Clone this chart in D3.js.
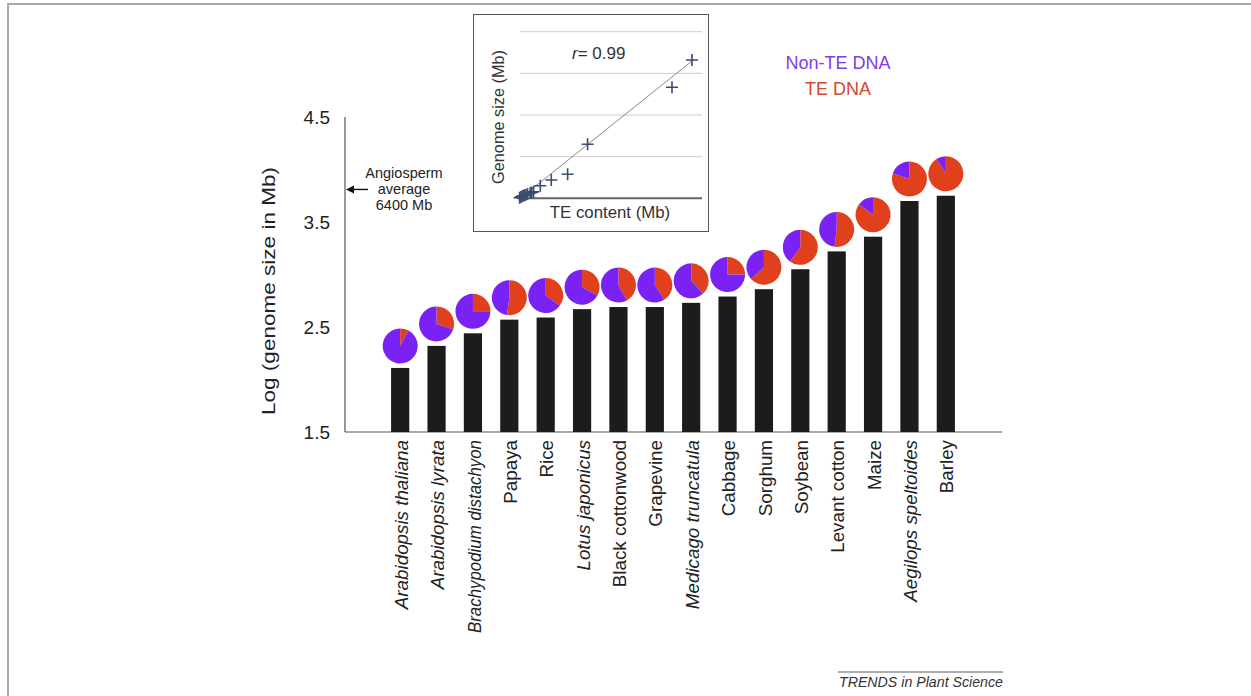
<!DOCTYPE html>
<html>
<head>
<meta charset="utf-8">
<script src="https://cdn.jsdelivr.net/npm/d3@7"></script>
<style>
  body { margin: 0; background: #fff; }
  text { font-family: "Liberation Sans", Arial, sans-serif; }
</style>
</head>
<body>
<div id="chart"></div>
<script>
// main chart data
const species = ["Arabidopsis thaliana", "Arabidopsis lyrata", "Brachypodium distachyon", "Papaya", "Rice",
  "Lotus japonicus", "Black cottonwood", "Grapevine", "Medicago truncatula", "Cabbage", "Sorghum",
  "Soybean", "Levant cotton", "Maize", "Aegilops speltoides", "Barley"];
const italicNames = ["Arabidopsis thaliana", "Arabidopsis lyrata", "Brachypodium distachyon",
  "Lotus japonicus", "Medicago truncatula", "Aegilops speltoides"];
const logSize = [2.11, 2.32, 2.44, 2.57, 2.59, 2.67, 2.69, 2.69, 2.73, 2.79, 2.86, 3.05, 3.22, 3.36, 3.70, 3.75];
const teShare = [0.08, 0.30, 0.25, 0.52, 0.35, 0.33, 0.42, 0.41, 0.38, 0.25, 0.63, 0.60, 0.52, 0.85, 0.80, 0.91];
const yTicks = [1.5, 2.5, 3.5, 4.5];
const angiospermAvg = 3.81;

// inset data (Mb)
const insetTE = [4516, 4000, 1822, 1306, 885, 601, 428, 343, 273, 196, 129, 67, 380, 230, 160, 100];
const insetSize = [4981, 3997, 1945, 864, 659, 454, 238, 191, 155, 108, 72, 22, 210, 130, 90, 50];
const insetGrid = [1500, 3000, 4500, 6000];
const fitLine = [[85, 0], [4560, 4994]];

const width = 1251, height = 696;
const purple = "#7a20f4", red = "#e0401c";

const svg = d3.select("#chart")
    .append("svg")
    .attr("width", width)
    .attr("height", height);

// page frame
svg.append("path")
    .attr("d", "M8,696 V4 H1251")
    .attr("fill", "none")
    .attr("stroke", "#aaa")
    .attr("stroke-width", 2);

const blur = svg.append("defs").append("filter")
    .attr("id", "soft")
    .attr("x", "-20%").attr("y", "-20%").attr("width", "140%").attr("height", "140%");
blur.append("feGaussianBlur").attr("stdDeviation", 0.7);

const x = d3.scaleBand()
    .domain(species)
    .range([382, 964])
    .paddingInner(0.5)
    .paddingOuter(0.25);

const y = d3.scaleLinear()
    .domain([1.5, 4.5])
    .range([432, 117]);

// axes
svg.append("line")
    .attr("x1", 345).attr("x2", 345)
    .attr("y1", y(4.5)).attr("y2", y(1.5))
    .attr("stroke", "#555").attr("stroke-width", 1.2);
svg.append("line")
    .attr("x1", 345).attr("x2", 1002)
    .attr("y1", y(1.5)).attr("y2", y(1.5))
    .attr("stroke", "#555").attr("stroke-width", 1.2);

svg.selectAll(".ytick")
    .data(yTicks)
    .enter()
    .append("text")
    .attr("class", "ytick")
    .attr("x", 330)
    .attr("y", d => y(d))
    .attr("dy", "0.36em")
    .attr("text-anchor", "end")
    .attr("font-size", 19)
    .attr("fill", "#222")
    .text(d => d.toFixed(1));

svg.append("text")
    .attr("transform", "translate(275,291) rotate(-90)")
    .attr("text-anchor", "middle")
    .attr("font-size", 18)
    .attr("textLength", 248)
    .attr("lengthAdjust", "spacingAndGlyphs")
    .attr("fill", "#222")
    .text("Log (genome size in Mb)");

// angiosperm average arrow
const yAvg = y(angiospermAvg);
svg.append("line")
    .attr("x1", 368).attr("x2", 350)
    .attr("y1", yAvg).attr("y2", yAvg)
    .attr("stroke", "#111").attr("stroke-width", 1.4);
svg.append("path")
    .attr("d", `M346,${yAvg} l8,-4 l0,8 z`)
    .attr("fill", "#111");
svg.append("text")
    .attr("x", 404)
    .attr("y", yAvg - 11)
    .attr("text-anchor", "middle")
    .attr("font-size", 14.5)
    .attr("fill", "#222")
    .selectAll("tspan")
    .data(["Angiosperm", "average", "6400 Mb"])
    .enter()
    .append("tspan")
    .attr("x", 404)
    .attr("dy", (d, i) => i === 0 ? 0 : 16)
    .text(d => d);

// bars
svg.selectAll(".bar")
    .data(species)
    .enter()
    .append("rect")
    .attr("class", "bar")
    .attr("x", d => x(d))
    .attr("y", (d, i) => y(logSize[i]))
    .attr("width", x.bandwidth())
    .attr("height", (d, i) => y(1.5) - y(logSize[i]))
    .attr("fill", "#1a1a1a")
    .attr("filter", "url(#soft)");

// pies above bars
const pie = d3.pie().sort(null).value(d => d);
const arc = d3.arc().innerRadius(0).outerRadius(17.5);

const pies = svg.selectAll(".pie")
    .data(species)
    .enter()
    .append("g")
    .attr("class", "pie")
    .attr("filter", "url(#soft)")
    .attr("transform", (d, i) => `translate(${x(d) + x.bandwidth() / 2},${y(logSize[i]) - 22})`);

pies.selectAll("path")
    .data((d, i) => pie([teShare[i], 1 - teShare[i]]))
    .enter()
    .append("path")
    .attr("d", arc)
    .attr("fill", (d, i) => i === 0 ? red : purple);

// category labels
const xLabels = svg.selectAll(".xlab")
    .data(species)
    .enter()
    .append("text")
    .attr("class", "xlab")
    .attr("transform", d => `translate(${x(d) + x.bandwidth() / 2 + 1},440) rotate(-90)`)
    .attr("dy", "0.35em")
    .attr("text-anchor", "end")
    .attr("font-size", 18.8)
    .attr("font-style", d => italicNames.includes(d) ? "italic" : "normal")
    .attr("fill", "#222")
    .text(d => d);

// the long Brachypodium label is squeezed in the original
xLabels.filter(d => d === "Brachypodium distachyon")
    .attr("textLength", 193)
    .attr("lengthAdjust", "spacingAndGlyphs");

// legend
svg.append("text")
    .attr("x", 838).attr("y", 68.5)
    .attr("text-anchor", "middle")
    .attr("font-size", 18)
    .attr("fill", "#7b3cf0")
    .text("Non-TE DNA");
svg.append("text")
    .attr("x", 838).attr("y", 94.5)
    .attr("text-anchor", "middle")
    .attr("font-size", 18)
    .attr("fill", "#d9462e")
    .text("TE DNA");

// inset scatter
const inset = svg.append("g");
inset.append("rect")
    .attr("x", 473.5).attr("y", 14.5)
    .attr("width", 235).attr("height", 217)
    .attr("fill", "#fff")
    .attr("stroke", "#555")
    .attr("stroke-width", 1);

const ix = d3.scaleLinear().domain([0, 4800]).range([517, 703]);
const iy = d3.scaleLinear().domain([0, 6000]).range([198.3, 31.7]);

inset.selectAll(".grid")
    .data(insetGrid)
    .enter()
    .append("line")
    .attr("x1", 520).attr("x2", 702)
    .attr("y1", d => iy(d)).attr("y2", d => iy(d))
    .attr("stroke", "#ccc").attr("stroke-width", 1);
inset.append("line")
    .attr("x1", 517).attr("x2", 702)
    .attr("y1", iy(0)).attr("y2", iy(0))
    .attr("stroke", "#666").attr("stroke-width", 2);

inset.append("line")
    .attr("x1", ix(fitLine[0][0])).attr("y1", iy(fitLine[0][1]))
    .attr("x2", ix(fitLine[1][0])).attr("y2", iy(fitLine[1][1]))
    .attr("stroke", "#888").attr("stroke-width", 1);

inset.selectAll(".pt")
    .data(insetTE)
    .enter()
    .append("path")
    .attr("class", "pt")
    .attr("d", (d, i) => {
        const px = ix(d), py = iy(insetSize[i]);
        return `M${px - 6},${py} H${px + 6} M${px},${py - 6} V${py + 6}`;
    })
    .attr("stroke", "#3b4a6e")
    .attr("stroke-width", 1.6);

inset.append("text")
    .attr("transform", "translate(504,117) rotate(-90)")
    .attr("text-anchor", "middle")
    .attr("font-size", 16.3)
    .attr("fill", "#333")
    .text("Genome size (Mb)");
inset.append("text")
    .attr("x", 610).attr("y", 218)
    .attr("text-anchor", "middle")
    .attr("font-size", 16.8)
    .attr("fill", "#333")
    .text("TE content (Mb)");
const rText = inset.append("text")
    .attr("x", 572).attr("y", 59)
    .attr("font-size", 17)
    .attr("fill", "#333");
rText.append("tspan").attr("font-style", "italic").text("r");
rText.append("tspan").text("= 0.99");

// footer
svg.append("line")
    .attr("x1", 838).attr("x2", 1003)
    .attr("y1", 672).attr("y2", 672)
    .attr("stroke", "#333").attr("stroke-width", 0.8);
svg.append("text")
    .attr("x", 1003).attr("y", 687)
    .attr("text-anchor", "end")
    .attr("font-size", 14.2)
    .attr("font-style", "italic")
    .attr("fill", "#333")
    .text("TRENDS in Plant Science");
</script>
</body>
</html>
